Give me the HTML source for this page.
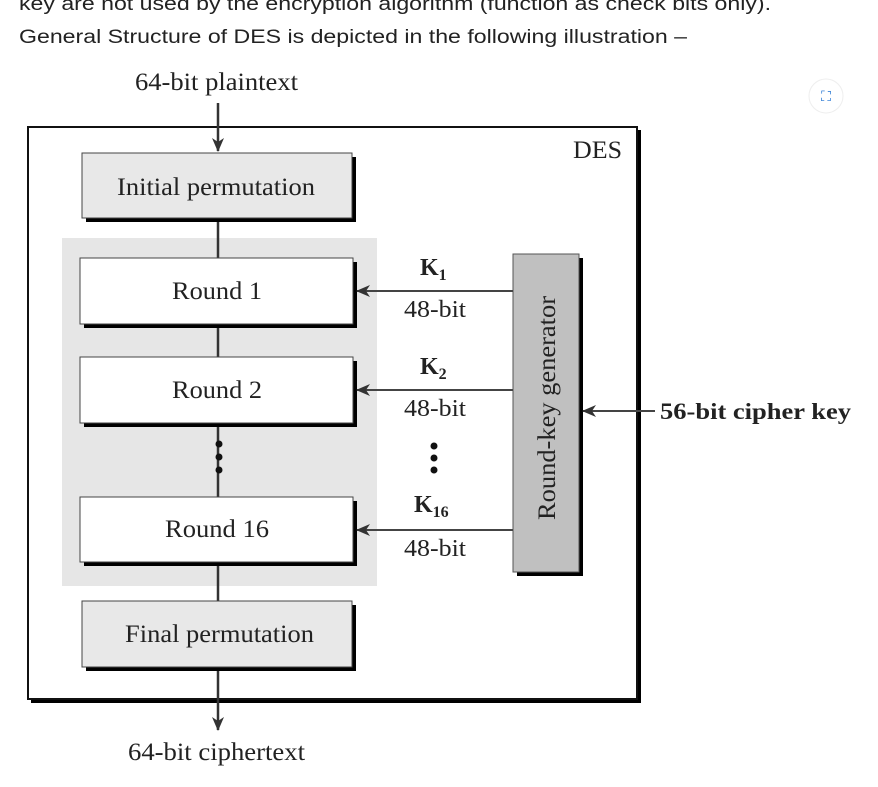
<!DOCTYPE html>
<html><head><meta charset="utf-8"><style>
html,body{margin:0;padding:0;background:#fff;width:878px;height:787px;overflow:hidden}
svg{display:block}
.s{font-family:"Liberation Serif",serif;fill:#222}
.a{font-family:"Liberation Sans",sans-serif;fill:#222}
</style></head><body>
<svg width="878" height="787" viewBox="0 0 878 787" xmlns="http://www.w3.org/2000/svg">
<defs><marker id="ah" markerWidth="14" markerHeight="12" refX="13" refY="6" orient="auto" markerUnits="userSpaceOnUse"><path d="M0,0 L14,6 L0,12 L4,6 Z" fill="#333"/></marker></defs>
<text class="a" x="19" y="10" font-size="19" textLength="752" lengthAdjust="spacingAndGlyphs">key are not used by the encryption algorithm (function as check bits only).</text>
<text class="a" x="19" y="43" font-size="19" textLength="668" lengthAdjust="spacingAndGlyphs">General Structure of DES is depicted in the following illustration –</text>
<text class="s" x="135" y="90" font-size="25" textLength="163" lengthAdjust="spacingAndGlyphs">64-bit plaintext</text>
<circle cx="826" cy="96" r="17" fill="#fff" stroke="#eee"/>
<text x="826" y="101" font-size="14" text-anchor="middle" fill="#1a6fd0" font-family="DejaVu Sans">⛶</text>
<rect x="31" y="130" width="610" height="573" fill="#000"/>
<rect x="28" y="127" width="609" height="572" fill="#fff" stroke="#111" stroke-width="2"/>
<text class="s" x="573" y="158" font-size="25" textLength="49" lengthAdjust="spacingAndGlyphs">DES</text>
<rect x="62" y="238" width="315" height="348" fill="#e6e6e6"/>
<line x1="218" y1="103" x2="218" y2="151" stroke="#333" stroke-width="2.5" marker-end="url(#ah)"/>
<line x1="218" y1="218" x2="218" y2="601" stroke="#333" stroke-width="2.5"/>
<line x1="218" y1="667" x2="218" y2="730" stroke="#333" stroke-width="2.5" marker-end="url(#ah)"/>
<rect x="86" y="157" width="270" height="65" fill="#000"/>
<rect x="82" y="153" width="270" height="65" fill="#e8e8e8" stroke="#444"/>
<text class="s" x="117" y="195" font-size="25" textLength="198" lengthAdjust="spacingAndGlyphs">Initial permutation</text>
<rect x="84" y="262" width="273" height="66" fill="#000"/>
<rect x="80" y="258" width="273" height="66" fill="#fff" stroke="#444"/>
<text class="s" x="172" y="299" font-size="25" textLength="90" lengthAdjust="spacingAndGlyphs">Round 1</text>
<rect x="84" y="361" width="273" height="66" fill="#000"/>
<rect x="80" y="357" width="273" height="66" fill="#fff" stroke="#444"/>
<text class="s" x="172" y="398" font-size="25" textLength="90" lengthAdjust="spacingAndGlyphs">Round 2</text>
<rect x="84" y="501" width="273" height="65" fill="#000"/>
<rect x="80" y="497" width="273" height="65" fill="#fff" stroke="#444"/>
<text class="s" x="165" y="537" font-size="25" textLength="104" lengthAdjust="spacingAndGlyphs">Round 16</text>
<rect x="86" y="605" width="270" height="66" fill="#000"/>
<rect x="82" y="601" width="270" height="66" fill="#e8e8e8" stroke="#444"/>
<text class="s" x="125" y="642" font-size="25" textLength="189" lengthAdjust="spacingAndGlyphs">Final permutation</text>
<circle cx="219" cy="444" r="3.5" fill="#111"/><circle cx="219" cy="457" r="3.5" fill="#111"/><circle cx="219" cy="470" r="3.5" fill="#111"/>
<circle cx="434" cy="446" r="3.5" fill="#111"/><circle cx="434" cy="458" r="3.5" fill="#111"/><circle cx="434" cy="470" r="3.5" fill="#111"/>
<rect x="517" y="258" width="66" height="318" fill="#000"/>
<rect x="513" y="254" width="66" height="318" fill="#c0c0c0" stroke="#555"/>
<text class="s" font-size="25" transform="translate(555,520) rotate(-90)" textLength="224" lengthAdjust="spacingAndGlyphs">Round-key generator</text>
<line x1="513" y1="291" x2="357" y2="291" stroke="#444" stroke-width="2" marker-end="url(#ah)"/>
<line x1="513" y1="390" x2="357" y2="390" stroke="#444" stroke-width="2" marker-end="url(#ah)"/>
<line x1="513" y1="530" x2="357" y2="530" stroke="#444" stroke-width="2" marker-end="url(#ah)"/>
<line x1="655" y1="411" x2="583" y2="411" stroke="#444" stroke-width="2" marker-end="url(#ah)"/>
<text class="s" x="420" y="275" font-size="24" font-weight="bold">K<tspan font-size="16" dy="5">1</tspan></text>
<text class="s" x="420" y="374" font-size="24" font-weight="bold">K<tspan font-size="16" dy="5">2</tspan></text>
<text class="s" x="414" y="512" font-size="24" font-weight="bold">K<tspan font-size="16" dy="5">16</tspan></text>
<text class="s" x="404" y="317" font-size="24" textLength="62" lengthAdjust="spacingAndGlyphs">48-bit</text>
<text class="s" x="404" y="416" font-size="24" textLength="62" lengthAdjust="spacingAndGlyphs">48-bit</text>
<text class="s" x="404" y="556" font-size="24" textLength="62" lengthAdjust="spacingAndGlyphs">48-bit</text>
<text class="s" x="660" y="419" font-size="23" font-weight="bold" textLength="191" lengthAdjust="spacingAndGlyphs">56-bit cipher key</text>
<text class="s" x="128" y="760" font-size="25" textLength="177" lengthAdjust="spacingAndGlyphs">64-bit ciphertext</text>
</svg>
</body></html>
